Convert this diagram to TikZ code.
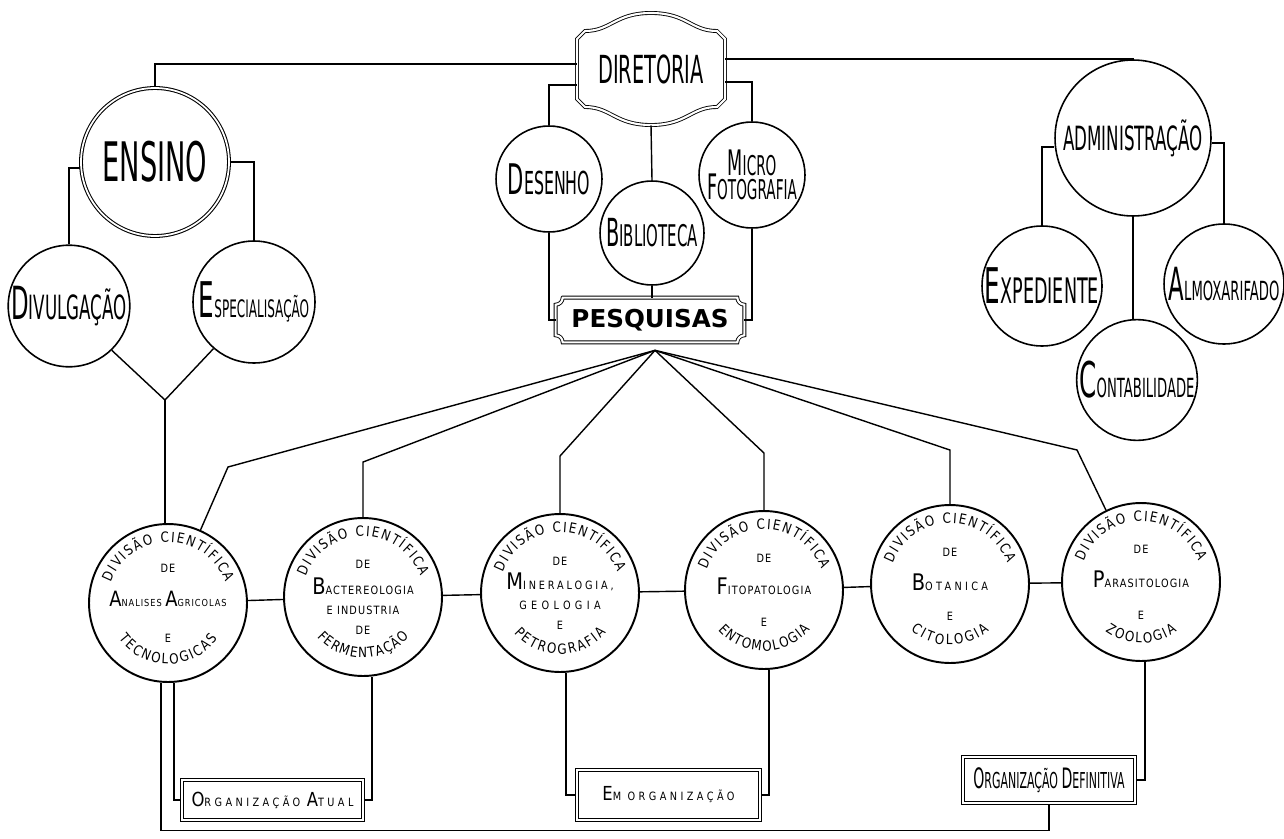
\documentclass[tikz,border=0pt]{standalone}
\usepackage{fontspec}
\setmainfont{DejaVu Sans}
\newfontfamily\decofont[FakeStretch=0.5]{DejaVu Sans}
\newfontfamily\plainfont[FakeStretch=0.85]{DejaVu Sans}
\newfontfamily\spacedfont[FakeStretch=0.85,LetterSpace=10]{DejaVu Sans}
\newfontfamily\boxfont[FakeStretch=0.85,LetterSpace=30]{DejaVu Sans}
\usetikzlibrary{calc, decorations.text}
\newcommand{\arcfont}{\plainfont\fontsize{8}{9}\selectfont}
\newcommand{\bigini}[2][10]{{\fontsize{#1}{#1}\selectfont #2}}
\tikzset{
  unit/.style={circle, draw, line width=0.9pt, inner sep=0pt, align=center},
  division/.style={circle, draw, line width=1.1pt, inner sep=0pt, minimum size=3.16cm,
                   align=center, font=\spacedfont\fontsize{6.5}{8}\selectfont},
  labelbox/.style={draw, double, double distance=1.5pt, line width=0.6pt, inner sep=0pt},
  link/.style={line width=0.8pt},
}

\begin{document}
\begin{tikzpicture}[x=0.02cm, y=0.02cm]
    \useasboundingbox (0,0) rectangle (1284,-838);
    \fill[white] (0,0) rectangle (1284,-838);

    % diretoria and its staff
    \node[minimum width=2.96cm, minimum height=2.24cm,
          font=\decofont\fontsize{22}{22}\selectfont] (dir) at (651,-69) {DIRETORIA};
    \draw[double, double distance=1.2pt, line width=0.5pt, shift={(dir.center)}]
      (-74,30) -- (-66,38) .. controls (-40,38) and (-36,56) .. (0,56)
      .. controls (36,56) and (40,38) .. (66,38) -- (74,30) -- (74,-30) -- (66,-38)
      .. controls (40,-38) and (36,-56) .. (0,-56) .. controls (-36,-56) and (-40,-38) .. (-66,-38)
      -- (-74,-30) -- cycle;

    \node[unit, minimum size=2.12cm, font=\decofont\fontsize{18}{18}\selectfont]
      (des) at (549,-179) {\bigini[24]{D}ESENHO};
    \node[unit, minimum size=2.08cm, font=\decofont\fontsize{17}{17}\selectfont]
      (bib) at (652,-233) {\bigini[22]{B}IBLIOTECA};
    \node[unit, minimum size=2.12cm, font=\decofont\fontsize{15.5}{17}\selectfont]
      (mic) at (752,-175) {\bigini[20]{M}ICRO\\[-3pt]\bigini[20]{F}OTOGRAFIA};

    \node[minimum width=3.76cm, minimum height=0.88cm,
          font=\bfseries\fontsize{14}{14}\selectfont] (pes) at (650,-320) {PESQUISAS};
    \draw[double, double distance=1.2pt, line width=0.5pt]
      ($(pes.north west)+(7,0)$) -- ($(pes.north east)+(-7,0)$) arc[start angle=180, end angle=270, radius=0.14cm]
      -- ($(pes.south east)+(0,7)$) arc[start angle=90, end angle=180, radius=0.14cm]
      -- ($(pes.south west)+(7,0)$) arc[start angle=0, end angle=90, radius=0.14cm]
      -- ($(pes.north west)+(0,-7)$) arc[start angle=270, end angle=360, radius=0.14cm] -- cycle;

    % ensino
    \node[unit, double, double distance=1pt, line width=0.6pt, minimum size=2.96cm,
          font=\decofont\fontsize{31}{31}\selectfont] (ens) at (155,-162) {ENSINO};
    \node[unit, minimum size=2.36cm, font=\decofont\fontsize{19}{19}\selectfont]
      (div) at (69,-306) {\bigini[26]{D}IVULGAÇÃO};
    \node[unit, minimum size=2.44cm, font=\decofont\fontsize{13.7}{14}\selectfont]
      (esp) at (254,-302) {\bigini[28]{E}SPECIALISAÇÃO};

    % administracao
    \node[unit, minimum size=3.12cm, font=\decofont\fontsize{19}{19}\selectfont]
      (adm) at (1133,-138) {ADMINISTRAÇÃO};
    \node[unit, minimum size=2.4cm, font=\decofont\fontsize{20}{20}\selectfont]
      (exp) at (1042,-286) {\bigini[28]{E}XPEDIENTE};
    \node[unit, minimum size=2.4cm, font=\decofont\fontsize{15}{15}\selectfont]
      (alm) at (1224,-284) {\bigini[26]{A}LMOXARIFADO};
    \node[unit, minimum size=2.4cm, font=\decofont\fontsize{15}{15}\selectfont]
      (con) at (1137,-380) {\bigini[28]{C}ONTABILIDADE};

    % divisoes cientificas
    \node[division] (an) at (168,-603)
      {DE\\[10pt]{\fontsize{5.5}{7}\selectfont\bigini[12]{A}NALISES \bigini[12]{A}GRICOLAS}\\[12pt]E};
    \node[division] (bac) at (363,-597)
      {DE\\[4.5pt]\bigini[13]{B}ACTEREOLOGIA\\[3.3pt]E INDUSTRIA\\[3.3pt]DE};
    \node[division] (min) at (560,-593)
      {DE\\[3.3pt]{\addfontfeature{LetterSpace=25}\bigini[13]{M}INERALOGIA,}\\[3.3pt]%
       {\addfontfeature{LetterSpace=38}GEOLOGIA}\\[3.3pt]E};
    \node[division] (fit) at (764,-590)
      {DE\\[8pt]\bigini[13]{F}ITOPATOLOGIA\\[10pt]E};
    \node[division] (bot) at (950,-584)
      {DE\\[9pt]{\addfontfeature{LetterSpace=29}\bigini[13]{B}OTANICA}\\[9pt]E};
    \node[division] (par) at (1141,-582)
      {DE\\[9pt]\bigini[13]{P}ARASITOLOGIA\\[10pt]E};

    \foreach \d in {an,bac,min,fit,bot,par}
      \path[decorate, decoration={text along path, text={|\arcfont|DIVISÃO CIENTÍFICA},
            text align={fit to path}}]
        (\d.center) ++(160:1.22cm) arc[start angle=160, end angle=20, radius=1.22cm];
    \path[decorate, decoration={text along path, text={|\arcfont|TECNOLOGICAS}, text align={fit to path}}]
      (an.center) ++(-144:1.22cm) arc[start angle=-144, end angle=-36, radius=1.22cm];
    \path[decorate, decoration={text along path, text={|\arcfont|FERMENTAÇÃO}, text align={fit to path}}]
      (bac.center) ++(-139:1.22cm) arc[start angle=-139, end angle=-41, radius=1.22cm];
    \path[decorate, decoration={text along path, text={|\arcfont|PETROGRAFIA}, text align={fit to path}}]
      (min.center) ++(-139:1.22cm) arc[start angle=-139, end angle=-41, radius=1.22cm];
    \path[decorate, decoration={text along path, text={|\arcfont|ENTOMOLOGIA}, text align={fit to path}}]
      (fit.center) ++(-139:1.22cm) arc[start angle=-139, end angle=-41, radius=1.22cm];
    \path[decorate, decoration={text along path, text={|\arcfont|CITOLOGIA}, text align={fit to path}}]
      (bot.center) ++(-130:1.22cm) arc[start angle=-130, end angle=-50, radius=1.22cm];
    \path[decorate, decoration={text along path, text={|\arcfont|ZOOLOGIA}, text align={fit to path}}]
      (par.center) ++(-126:1.22cm) arc[start angle=-126, end angle=-54, radius=1.22cm];

    % etapas
    \node[labelbox, minimum width=3.62cm, minimum height=0.8cm,
          font=\boxfont\fontsize{6.5}{7}\selectfont] (atu) at (272.5,-800)
      {\bigini[11]{O}RGANIZAÇÃO \bigini[11]{A}TUAL};
    \node[labelbox, minimum width=3.66cm, minimum height=1.0cm,
          font=\boxfont\fontsize{6.5}{7}\selectfont] (emo) at (668.5,-795)
      {\bigini[11]{E}M ORGANIZAÇÃO};
    \node[labelbox, minimum width=3.44cm, minimum height=0.92cm,
          font=\decofont\fontsize{12.5}{13}\selectfont] (def) at (1049,-780)
      {\bigini[16]{O}RGANIZAÇÃO \bigini[16]{D}EFINITIVA};

    % ligacoes
    \draw[link] ($(dir.west)+(0,5)$) -| (ens.north);
    \draw[link] ($(dir.east)+(0,10)$) -| (adm.north);
    \draw[link] ($(dir.west)+(0,-16)$) -| (des.north);
    \draw[link] ($(dir.east)+(0,-13)$) -| (mic.north);
    \draw[link] (dir.south) -- (bib.north);
    \draw[link] (des.south) |- (pes.west);
    \draw[link] (mic.south) |- (pes.east);
    \draw[link] (bib.south) -- (bib.south |- pes.north);

    \draw[link] ($(ens.west)+(0,-6)$) -| (div.north);
    \draw[link] (ens.east) -| (esp.north);
    \coordinate (join) at (165,-400);
    \draw[link] (div.-46) -- (join) -- (esp.229);
    \draw[link] (join) -- (join |- an.north);

    \draw[link] ($(adm.west)+(0,-9)$) -| (exp.north);
    \draw[link] ($(adm.east)+(0,-5)$) -| (alm.north);
    \draw[link] (adm.south) -- (adm.south |- con.north);

    \coordinate (fan) at ($(pes.south)+(5,-8)$);
    \coordinate (kan) at (228,-467);
    \coordinate (kbac) at ($(bac.north)+(0,55)$);
    \coordinate (kmin) at ($(min.north)+(0,57)$);
    \coordinate (kfit) at ($(fit.north)+(0,57)$);
    \coordinate (kbot) at ($(bot.north)+(0,54)$);
    \coordinate (kpar) at (1077,-450);
    \draw[link] (fan) -- (kan) -- (an.66);
    \draw[link] (fan) -- (kbac) -- (bac.north);
    \draw[link] (fan) -- (kmin) -- (min.north);
    \draw[link] (fan) -- (kfit) -- (fit.north);
    \draw[link] (fan) -- (kbot) -- (bot.north);
    \draw[link] (fan) -- (kpar) -- (par.116);

    \draw[link] (an) -- (bac);
    \draw[link] (bac) -- (min);
    \draw[link] (min) -- (fit);
    \draw[link] (fit) -- (bot);
    \draw[link] (bot) -- (par);

    \coordinate (base) at ($(def.south)+(0,-27)$);
    \draw[link] ($(an.south)+(-7,0)$) |- (base) -- (def.south);
    \draw[link] ($(an.south)+(6,0)$) |- (atu.west);
    \draw[link] ($(bac.south)+(9,0)$) |- (atu.east);
    \draw[link] ($(min.south)+(6,0)$) |- (emo.west);
    \draw[link] ($(fit.south)+(5,0)$) |- (emo.east);
    \draw[link] ($(par.south)+(4,0)$) |- (def.east);
\end{tikzpicture}
\end{document}
